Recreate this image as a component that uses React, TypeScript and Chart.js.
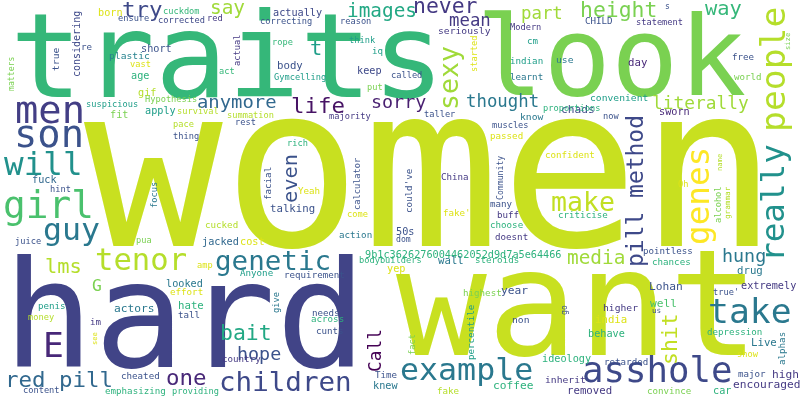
import React, { useEffect, useRef } from 'react';
import { Chart, registerables } from 'chart.js';

Chart.register(...registerables);

// [text, x, baseline y, font size, colour] in the 800x400 picture
type Word = [string, number, number, number, string];

const bigWords: Word[] = [
  ['women', 84, 246, 226, '#c8e020'],
  ['traits', 10, 97, 118, '#35b779'],
  ['look', 476, 95, 110, '#7ad151'],
  ['want', 396, 355, 148, '#c8e020'],
  ['hard', 3, 367, 148, '#414487'],
];

const mediumWords: Word[] = [
  ['men', 15, 123, 38, '#433e85'],
  ['son', 14, 147, 38, '#3b528b'],
  ['will', 4, 175, 32, '#21918c'],
  ['girl', 3, 218, 37, '#4ac16d'],
  ['guy', 43, 240, 31, '#2a788e'],
  ['tenor', 95, 270, 30, '#b5de2b'],
  ['lms', 45, 273, 20, '#b5de2b'],
  ['G', 92, 291, 16, '#7ad151'],
  ['E', 43, 357, 34, '#482878'],
  ['red pill', 5, 387, 22, '#31688e'],
  ['one', 166, 385, 22, '#482878'],
  ['genetic', 215, 270, 27, '#2a788e'],
  ['bait', 220, 340, 21, '#22a884'],
  ['hope', 237, 360, 18, '#3b528b'],
  ['children', 219, 391, 27, '#3e4989'],
  ['example', 400, 380, 31, '#2a788e'],
  ['asshole', 582, 382, 35, '#3e4989'],
  ['take', 708, 323, 34, '#2a788e'],
  ['make', 551, 211, 26, '#c2df23'],
  ['media', 567, 264, 19, '#a0da39'],
  ['hung', 722, 262, 18, '#2a788e'],
  ['thought', 466, 107, 17, '#2a788e'],
  ['sorry', 371, 108, 18, '#481f70'],
  ['life', 291, 113, 22, '#471365'],
  ['anymore', 197, 108, 18.5, '#31688e'],
  ['say', 210, 14, 19, '#a0da39'],
  ['images', 347, 17, 19, '#22a884'],
  ['never', 413, 13, 21, '#443983'],
  ['mean', 449, 26, 17, '#443983'],
  ['part', 521, 19, 17, '#a0da39'],
  ['height', 580, 17, 21, '#7ad151'],
  ['way', 705, 15, 20, '#35b779'],
  ['literally', 652, 109, 17.5, '#a0da39'],
  ['try', 122, 17, 22, '#3e4989'],
  ['t', 310, 55, 20, '#1f9e89'],
];

const smallWordsLeft: Word[] = [
  ['born', 98, 16, 10, '#dde318'],
  ['ensure', 118, 21, 8.5, '#3b528b'],
  ['cuckdom', 163, 14, 8.5, '#35b779'],
  ['corrected', 158, 23, 8.5, '#3e4989'],
  ['red', 207, 21, 8.5, '#443983'],
  ['re', 81, 50, 9, '#3b528b'],
  ['short', 141, 52, 10, '#3b528b'],
  ['plastic', 109, 59, 9.5, '#26828e'],
  ['vast', 130, 67, 8.5, '#dde318'],
  ['age', 131, 79, 10, '#2db27d'],
  ['gif', 138, 96, 10, '#b5de2b'],
  ['Hypothesis', 145, 102, 8.5, '#7ad151'],
  ['suspicious', 86, 107, 8.5, '#1f9e89'],
  ['apply', 145, 114, 10, '#1f9e89'],
  ['survival', 177, 114, 8.5, '#b5de2b'],
  ['fit', 110, 118, 10, '#7ad151'],
  ['pace', 173, 127, 8.5, '#b5de2b'],
  ['thing', 173, 139, 8.5, '#3b528b'],
  ['fuck', 32, 183, 10, '#31688e'],
  ['hint', 50, 192, 8.5, '#3b528b'],
  ['juice', 15, 244, 8.5, '#3b528b'],
  ['pua', 136, 243, 8.5, '#7ad151'],
  ['amp', 197, 268, 8.5, '#dde318'],
  ['looked', 166, 287, 10, '#2a788e'],
  ['effort', 170, 295, 9, '#dde318'],
  ['hate', 178, 309, 10.5, '#2db27d'],
  ['tall', 178, 318, 9, '#3b528b'],
  ['penis', 38, 309, 9, '#1f9e89'],
  ['actors', 114, 312, 11, '#2a788e'],
  ['money', 28, 320, 8.5, '#b5de2b'],
  ['im', 90, 325, 9, '#443983'],
  ['cheated', 121, 379, 9, '#3b528b'],
  ['content', 23, 393, 8.5, '#3b528b'],
  ['emphasizing', 105, 394, 9, '#2db27d'],
  ['providing', 172, 394, 8.5, '#2db27d'],
];

const smallWordsMiddle: Word[] = [
  ['actually', 273, 16, 10, '#3e4989'],
  ['correcting', 260, 24, 8.5, '#3b528b'],
  ['reason', 340, 24, 8.5, '#3b528b'],
  ['rope', 272, 45, 8.5, '#35b779'],
  ['think', 349, 43, 8.5, '#1f9e89'],
  ['iq', 372, 54, 9, '#1f9e89'],
  ['body', 277, 69, 10.5, '#3b528b'],
  ['act', 219, 74, 8.5, '#35b779'],
  ['keep', 357, 74, 10, '#3e4989'],
  ['Gymcelling', 274, 80, 8.5, '#1f9e89'],
  ['put', 367, 90, 8.5, '#7ad151'],
  ['called', 391, 78, 8.5, '#3b528b'],
  ['summation', 227, 118, 8.5, '#b5de2b'],
  ['rest', 235, 125, 8.5, '#3b528b'],
  ['majority', 329, 119, 8.5, '#443983'],
  ['rich', 287, 146, 8.5, '#2db27d'],
  ['Yeah', 298, 194, 9, '#dde318'],
  ['talking', 270, 212, 10.5, '#3b528b'],
  ['come', 347, 217, 8.5, '#dde318'],
  ['cucked', 205, 228, 9, '#b5de2b'],
  ['action', 339, 238, 9, '#2a788e'],
  ['jacked', 202, 245, 10, '#31688e'],
  ['cost', 240, 245, 10, '#dde318'],
  ['50s', 396, 235, 10, '#3b528b'],
  ['dom', 396, 242, 8, '#3b528b'],
  ['9b1c3626276004462052d9d7a5e64466', 365, 258, 10, '#2db27d'],
  ['bodybuilders', 359, 263, 8.5, '#2db27d'],
  ['yep', 387, 272, 10, '#dde318'],
  ['Anyone', 240, 276, 9, '#1f9e89'],
  ['requirement', 284, 278, 9, '#3b528b'],
  ['needs', 312, 316, 9, '#3b528b'],
  ['across', 311, 322, 9, '#2db27d'],
  ['cunts', 316, 334, 9, '#3b528b'],
  ['country', 222, 362, 9, '#443983'],
  ['Time', 375, 378, 9, '#3b528b'],
  ['knew', 373, 389, 10, '#2a788e'],
];

const smallWordsRight: Word[] = [
  ['seriously', 438, 34, 9.5, '#443983'],
  ['CHILD', 585, 24, 9, '#3b528b'],
  ['Modern', 510, 30, 8.5, '#443983'],
  ['cm', 527, 44, 9, '#1f9e89'],
  ['indian', 510, 64, 9, '#1f9e89'],
  ['use', 556, 63, 9.5, '#2a788e'],
  ['learnt', 510, 80, 9, '#2a788e'],
  ['chads', 561, 113, 11, '#3e4989'],
  ['proportions', 543, 111, 8.5, '#2db27d'],
  ['convenient', 590, 101, 9.5, '#1f9e89'],
  ['taller', 424, 117, 8.5, '#3b528b'],
  ['know', 520, 120, 9.5, '#2a788e'],
  ['muscles', 492, 128, 8.5, '#3b528b'],
  ['passed', 490, 139, 9, '#dde318'],
  ['confident', 545, 158, 9, '#dde318'],
  ['China', 441, 180, 9, '#443983'],
  ['s', 665, 9, 8, '#3b528b'],
  ['statement', 636, 25, 8.5, '#443983'],
  ['free', 732, 60, 9, '#3b528b'],
  ['day', 628, 66, 10.5, '#482878'],
  ['world', 734, 80, 9, '#7ad151'],
  ['sworn', 659, 115, 10, '#482878'],
  ['now', 603, 119, 8.5, '#3b528b'],
  ['Oh', 678, 187, 8.5, '#dde318'],
  ["fake'", 443, 216, 9, '#dde318'],
  ['many', 490, 207, 9, '#3b528b'],
  ['buff', 497, 218, 9, '#443983'],
  ['criticise', 558, 218, 9, '#2db27d'],
  ['choose', 490, 228, 9, '#2db27d'],
  ['doesnt', 495, 240, 9, '#443983'],
  ['wall', 438, 264, 10.5, '#2a788e'],
  ['steroids', 475, 263, 9, '#2db27d'],
  ['highest', 463, 296, 9, '#7ad151'],
  ['year', 501, 294, 11, '#3b528b'],
  ['non', 512, 323, 9.5, '#3b528b'],
  ['ideology', 542, 362, 10, '#2db27d'],
  ['inherit', 545, 383, 9.5, '#443983'],
  ['coffee', 493, 389, 11, '#2db27d'],
  ['fake', 437, 394, 9, '#b5de2b'],
  ['removed', 567, 394, 10.5, '#443983'],
  ['india', 595, 323, 10.5, '#dde318'],
  ['behave', 588, 337, 10, '#2db27d'],
  ['pointless', 643, 254, 9, '#3b528b'],
  ['chances', 652, 265, 9, '#2db27d'],
  ['drug', 737, 274, 10.5, '#2a788e'],
  ['Lohan', 649, 290, 11, '#3b528b'],
  ['extremely', 741, 289, 10, '#443983'],
  ["true'", 713, 295, 8.5, '#3b528b'],
  ['higher', 603, 311, 9.5, '#443983'],
  ['well', 650, 307, 11, '#4ac16d'],
  ['us', 652, 313, 7.5, '#3b528b'],
  ['depression', 707, 335, 9, '#2db27d'],
  ['Live', 751, 346, 10.5, '#2a788e'],
  ['show', 737, 357, 8.5, '#dde318'],
  ['retarded', 604, 365, 9, '#3b528b'],
  ['major', 738, 377, 9, '#3b528b'],
  ['high', 772, 378, 11, '#443983'],
  ['encouraged', 733, 388, 11, '#443983'],
  ['convince', 647, 394, 9, '#7ad151'],
  ['car', 713, 394, 10, '#2db27d'],
];

// rotated words read bottom to top: [text, baseline x, start y, font size, colour]
const verticalWords: Word[] = [
  ['considering', 80, 77, 9.8, '#3e4989'],
  ['true', 59, 71, 9.5, '#3b528b'],
  ['matters', 14, 91, 8, '#7ad151'],
  ['focus', 157, 208, 8.5, '#2a788e'],
  ['actual', 240, 66, 8.5, '#443983'],
  ['even', 297, 203, 20, '#3b528b'],
  ['facial', 271, 200, 9, '#3b528b'],
  ['calculator', 360, 210, 8.5, '#3b528b'],
  ['started', 477, 72, 8.5, '#dde318'],
  ['sexy', 458, 110, 26, '#a0da39'],
  ["could've", 412, 213, 9, '#3b528b'],
  ['Community', 503, 200, 8, '#3b528b'],
  ['people', 785, 132, 34, '#b5de2b'],
  ['size', 790, 50, 7, '#7ad151'],
  ['pill method', 643, 267, 22.5, '#3e4989'],
  ['genes', 709, 245, 32, '#fde725'],
  ['alcohol', 721, 223, 8.5, '#7ad151'],
  ['name', 722, 171, 7, '#b5de2b'],
  ['grammar', 730, 219, 7.5, '#b5de2b'],
  ['really', 784, 262, 32, '#21918c'],
  ['see', 97, 345, 7, '#dde318'],
  ['give', 279, 313, 8.5, '#2a788e'],
  ['Call', 381, 372, 17.5, '#440154'],
  ['percentile', 474, 360, 9, '#1f9e89'],
  ['fact', 415, 355, 8.5, '#7ad151'],
  ['go', 567, 315, 8, '#3b528b'],
  ['shit', 677, 365, 21, '#c2df23'],
  ['alphas', 785, 365, 9, '#2a788e'],
];

const horizontalWords: Word[] = [
  ...bigWords,
  ...mediumWords,
  ...smallWordsLeft,
  ...smallWordsMiddle,
  ...smallWordsRight,
];

const FONT = '"DejaVu Sans Mono", monospace';
// the original mono face runs a touch wider than DejaVu
const STRETCH = 1.02;

const wordPlugin = {
  id: 'wordText',
  afterDatasetsDraw(chart: any) {
    const ctx = chart.ctx;
    const k = chart.chartArea.width / 800;
    chart.data.datasets.forEach((ds: any, i: number) => {
      const meta = chart.getDatasetMeta(i);
      meta.data.forEach((pt: any, j: number) => {
        const w: Word = ds.words[j];
        ctx.save();
        ctx.font = `${w[3] * k}px ${FONT}`;
        ctx.fillStyle = w[4];
        ctx.textBaseline = 'alphabetic';
        ctx.textAlign = 'left';
        ctx.translate(pt.x, pt.y);
        if (ds.vertical) ctx.rotate(-Math.PI / 2);
        ctx.scale(STRETCH, 1);
        ctx.fillText(w[0], 0, 0);
        ctx.restore();
      });
    });
  },
};

const toPoints = (list: Word[]) => list.map((w) => ({ x: w[1], y: w[2] }));

const App: React.FC = () => {
  const canvasRef = useRef<HTMLCanvasElement>(null);
  const chartRef = useRef<Chart | null>(null);

  useEffect(() => {
    document.body.style.margin = '0';
    if (!canvasRef.current) return;
    if (chartRef.current) chartRef.current.destroy();

    chartRef.current = new Chart(canvasRef.current, {
      type: 'scatter',
      data: {
        datasets: [
          {
            data: toPoints(horizontalWords),
            words: horizontalWords,
            vertical: false,
            pointRadius: 0,
          } as any,
          {
            data: toPoints(verticalWords),
            words: verticalWords,
            vertical: true,
            pointRadius: 0,
          } as any,
        ],
      },
      options: {
        animation: false,
        responsive: true,
        maintainAspectRatio: false,
        layout: { padding: 0 },
        scales: {
          x: { type: 'linear', min: 0, max: 800, display: false },
          y: { type: 'linear', min: 0, max: 400, reverse: true, display: false },
        },
        plugins: {
          legend: { display: false },
          tooltip: { enabled: false },
        },
      },
      plugins: [wordPlugin],
    });

    return () => {
      if (chartRef.current) {
        chartRef.current.destroy();
        chartRef.current = null;
      }
    };
  }, []);

  return (
    <div style={{ position: 'relative', width: '800px', height: '400px', background: '#fff' }}>
      <canvas ref={canvasRef}></canvas>
    </div>
  );
};

export default App;
